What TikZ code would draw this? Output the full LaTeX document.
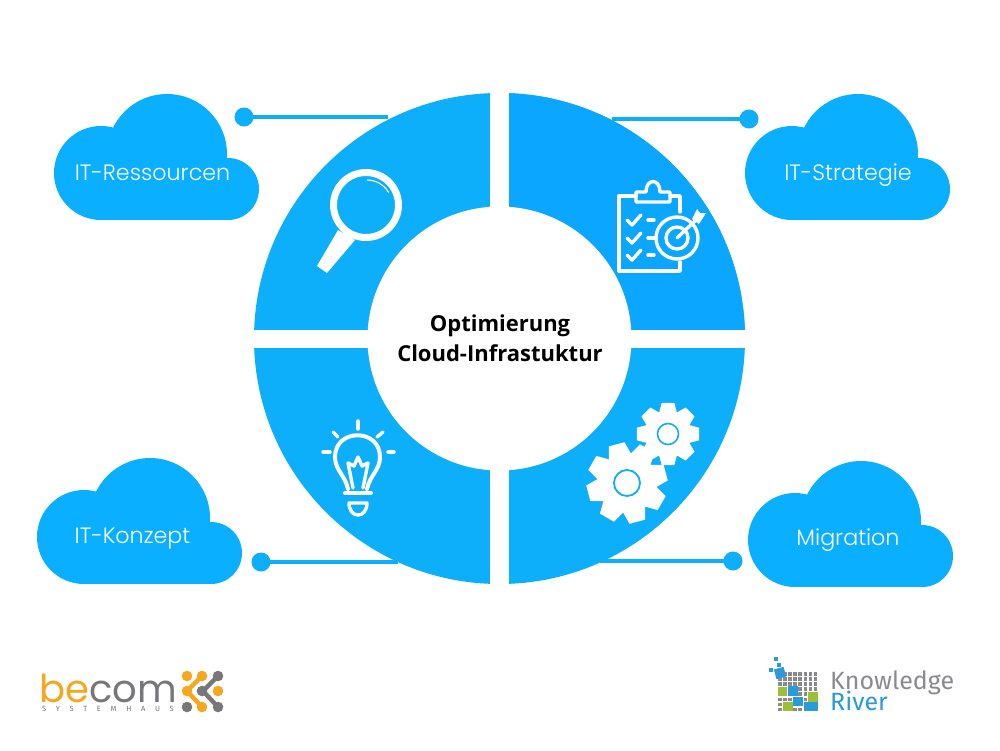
\documentclass[tikz,border=0pt]{standalone}
\usepackage{fontspec}
\setmainfont{Open Sans}
\newfontfamily\cloudfont[UprightFont=* Light]{Poppins}
\newfontfamily\becomfont{Poppins}
\newfontfamily\logofont{Fira Sans}
\definecolor{ringblue}{HTML}{0DAEFA}
\definecolor{ringdeep}{HTML}{0AA6FF}
\definecolor{cloudblue}{HTML}{0AB0FF}
\definecolor{logoorange}{HTML}{F5A81F}
\definecolor{logogrey}{HTML}{77777B}
\definecolor{krgrey}{HTML}{8A8A8E}
\definecolor{krblue}{HTML}{2A9BD8}
\definecolor{krgreen}{HTML}{9CBF3A}
\tikzset{
  dot/.style={circle, fill=ringblue, minimum size=19pt, inner sep=0pt, outer sep=0pt},
  wire/.style={ringblue, line width=4.2pt},
  cloudlabel/.style={text=white, font=\cloudfont\fontsize{22.2}{26}\selectfont},
  icon/.style={white, line width=4pt, line cap=round, line join=round},
  thinicon/.style={white, line width=3.4pt, line cap=round, line join=round},
  pics/cloudshape/.style={code={
    \fill[cloudblue] (47,79) circle (47);
    \fill[cloudblue] (113,60) circle (60);
    \fill[cloudblue] (174,95) circle (31);
    \fill[cloudblue] (47,79) rectangle (174,126);
  }},
  pics/gear/.style={code={
    \foreach \a in {0,45,...,315}
      \fill[white, rotate=\a+#1] (-2.7,-5.5) -- (-1.8,-8.9) -- (1.8,-8.9) -- (2.7,-5.5) -- cycle;
  }}
}
\begin{document}
\begin{tikzpicture}[x=1pt,y=-1pt]
  \useasboundingbox (0,0) rectangle (1000,750);
  \fill[white] (0,0) rectangle (1000,750);
  % clouds
  \pic at (54,94) {cloudshape};
  \pic at (745,94) {cloudshape};
  \pic at (37,458) {cloudshape};
  \pic at (748,461) {cloudshape};
  \node[cloudlabel] (ressourcen) at (152.5,173) {IT-Ressourcen};
  \node[cloudlabel] (strategie) at (848,175) {IT-Strategie};
  \node[cloudlabel] (konzept) at (132.5,539) {IT-Konzept};
  \node[cloudlabel] (migration) at (848,540) {Migration};
  % ring
  \fill[ringblue] (499.5,338.5) circle (245.5);
  \fill[ringdeep] (499.5,338.5) -- (499.5,93) arc[start angle=-90, end angle=0, radius=245.5] -- cycle;
  \fill[white] (499.5,338.5) circle (132);
  \fill[white] (490,80) rectangle (509,600);
  \fill[white] (240,329.5) rectangle (760,347.5);
  \node[font=\bfseries\fontsize{22}{30}\selectfont, align=center] (title) at (500,338) {Optimierung\\Cloud-Infrastuktur};
  % connectors
  \node[dot] (dotnw) at (244,117) {};
  \node[dot] (dotne) at (749,119) {};
  \node[dot] (dotsw) at (261,562) {};
  \node[dot] (dotse) at (733,561) {};
  \coordinate (ringnw) at (388,117);
  \coordinate (ringne) at (612,119);
  \coordinate (ringsw) at (398,562);
  \coordinate (ringse) at (600,561);
  \draw[wire] (dotnw.center) -- (ringnw);
  \draw[wire] (dotne.center) -- (ringne);
  \draw[wire] (dotsw.center) -- (ringsw);
  \draw[wire] (dotse.center) -- (ringse);
  % magnifier
  \draw[white, line width=7pt] (366,205) circle (32.5);
  \fill[white] (338,230) -- (355,240) -- (327,273) -- (317,266) -- cycle;
  \draw[white, line width=1.1pt] (367,180) arc[start angle=-90, end angle=-30, radius=25];
  % clipboard
  \draw[thinicon] (636,196) -- (619,196) -- (619,271) -- (680,271) -- (680,262);
  \draw[thinicon] (670,196) -- (680,196) -- (680,212);
  \draw[thinicon] (636,202) -- (636,192) -- (646,192) .. controls (646,178) and (660,178) .. (660,192) -- (670,192) -- (670,202) -- cycle;
  \foreach \ty in {220,238,255} {
    \draw[thinicon] (627,\ty) -- (632,\ty+5) -- (641,\ty-5);
    \draw[thinicon] (648,\ty) -- (654,\ty);
  }
  \draw[thinicon] (677,238) circle (21);
  \draw[thinicon] (677,238) circle (11);
  \draw[thinicon] (677,238) -- (696,220);
  \fill[white] (692,219) -- (697,209) -- (700,213) -- (706,213) -- (699,224) -- cycle;
  % gears
  \pic at (668,434) [scale=3.5] {gear=0};
  \fill[white] (668,434) circle (22.5);
  \draw[ringblue, line width=1.6pt] (668,434) circle (10.5);
  \pic at (627,483) [scale=4.5] {gear=15};
  \fill[white] (627,483) circle (29);
  \draw[ringblue, line width=1.8pt] (627,483) circle (13);
  % bulb
  \draw[icon] (348,489) .. controls (345,475) and (335,470) .. (335,457) .. controls (335,428) and (380,428) .. (380,457) .. controls (380,470) and (370,475) .. (367,489);
  \draw[thinicon] (353,488) -- (348,463) -- (354,466) -- (358,457) -- (362,466) -- (368,463) -- (363,488);
  \draw[icon] (345,493) -- (371,493);
  \draw[thinicon] (349,503) -- (367,503) .. controls (367,519) and (349,519) .. (349,503) -- cycle;
  \draw[thinicon] (358,421) -- (358,429);
  \draw[thinicon] (333,432) -- (338,437);
  \draw[thinicon] (383,432) -- (377,437);
  \draw[thinicon] (323,452) -- (330,452);
  \draw[thinicon] (388,452) -- (394,452);
  % becom logo
  \node[anchor=base west, inner sep=0pt, font=\becomfont\fontsize{38.5}{38.5}\selectfont, text=logogrey] (becom) at (39,702) {\textcolor{logoorange}{be}com};
  \node[anchor=base west, inner sep=0pt, font=\logofont\fontsize{7.5}{8}\selectfont\addfontfeature{LetterSpace=130}, text=logogrey] (systemhaus) at (42,711) {SYSTEMHAUS};
  \draw[logoorange, line width=4.5pt, line join=round] (202,676) -- (187,691) -- (202,707);
  \draw[logogrey, line width=4.5pt, line join=round] (218,676) -- (203,691) -- (218,707);
  \foreach \lx/\ly/\lc in {187/676/logoorange,202/676/logoorange,218/676/logogrey,202/691/logogrey,218/691/logoorange,187/707/logogrey,202/707/logoorange,218/707/logogrey,187/691/logoorange}
    \fill[\lc] (\lx,\ly) circle (5.3);
  % knowledge river logo
  \foreach \i in {0,...,7} \foreach \j in {0,...,7}
    \fill[krgrey] (778+\i*5.1,672+\j*5.1) rectangle ++(3.6,3.6);
  \fill[krgreen] (778,687) rectangle (787,696);
  \fill[krblue] (788,686) rectangle (798,696);
  \fill[krgreen] (808,692) rectangle (818,702);
  \fill[krblue] (793,697) rectangle (803,706);
  \fill[krgreen] (783,702) rectangle (793,711);
  \fill[krblue] (804,702) rectangle (818,711);
  \fill[krblue, rotate around={15:(780,673)}] (775,668) rectangle (785,678);
  \foreach \kx/\ky in {774/657,777/663,769/668}
    \fill[krblue] (\kx,\ky) rectangle ++(4,4);
  \node[anchor=base west, inner sep=0pt, font=\logofont\fontsize{25}{25}\selectfont, text=krgrey] (knowledge) at (830,689) {Knowledge};
  \node[anchor=base west, inner sep=0pt, font=\logofont\fontsize{25}{25}\selectfont, text=krblue] (river) at (830,710) {River};
\end{tikzpicture}
\end{document}
